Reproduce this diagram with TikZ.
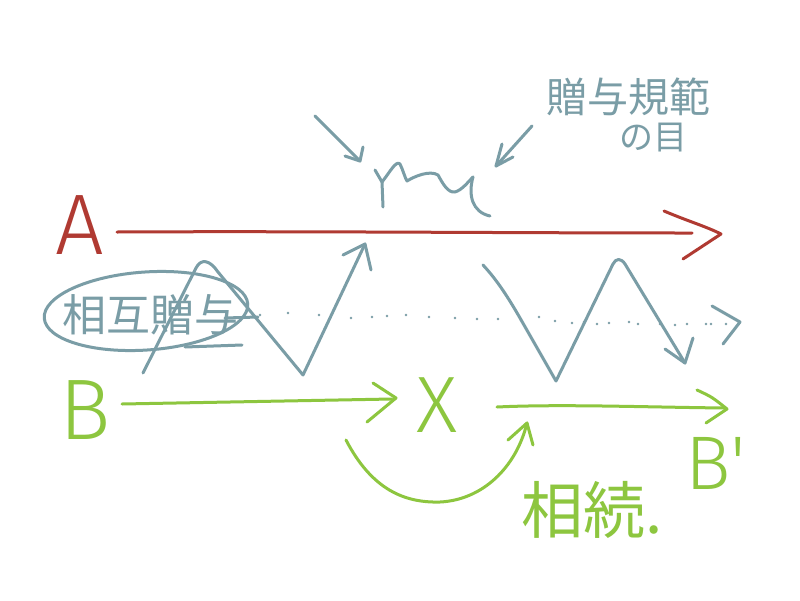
\documentclass[tikz,border=0pt]{standalone}
\usepackage{fontspec}
\newfontfamily\latinhand{Fira Sans Light}
\newfontfamily\cjk{Noto Sans CJK JP}
\definecolor{cred}{HTML}{B03A32}
\definecolor{cblue}{HTML}{7A9DA6}
\definecolor{cgreen}{HTML}{8DC63F}
\begin{document}
\begin{tikzpicture}[x=1pt,y=-1pt,
  pen/.style={line width=3pt,line cap=round,line join=round},
  redpen/.style={pen,draw=cred},
  bluepen/.style={pen,draw=cblue},
  greenpen/.style={pen,draw=cgreen},
  letter/.style={inner sep=0pt,font=\latinhand},
  jtext/.style={inner sep=0pt}]
\fill[white] (0,0) rectangle (800,600);
\useasboundingbox (0,0) rectangle (800,600);

% ---------- letters ----------
\node[letter,text=cred] (A) at (80,225) {\fontsize{86}{90}\selectfont A};
\node[letter,text=cgreen] (B) at (85,410) {\fontsize{86}{90}\selectfont B};
\node[letter,text=cgreen] (X) at (437,405) {\fontsize{80}{84}\selectfont X};
\node[letter,text=cgreen] (Bp) at (716,463) {\fontsize{76}{80}\selectfont B'};

% ---------- japanese texts ----------
\node[jtext,text=cblue] (norm1) at (628,97) {\cjk\fontsize{41}{44}\selectfont 贈与規範};
\node[jtext,text=cblue] (norm2) at (653,138) {\cjk\fontsize{34}{38}\selectfont の目};
\node[jtext,text=cblue] (mutual) at (150,315) {\cjk\fontsize{44}{48}\selectfont 相互贈与};
\node[jtext,text=cgreen] (inherit) at (592,510) {\cjk\fontsize{62}{66}\selectfont 相続.};

% ---------- red arrow A ----------
\coordinate (a0) at (117,232);
\coordinate (a1) at (721,234);
\coordinate (a1u) at (664,211);
\coordinate (a1d) at (683,259);
\draw[redpen] (a0) .. controls (300,231) and (500,233) .. (692,233);
\draw[redpen] (a1u) .. controls (690,222) and (705,226) .. (a1) -- (a1d);

% ---------- blue: norm gaze ----------
\coordinate (l0) at (315,116);
\coordinate (l1) at (360,161);
\draw[bluepen] (l0) -- (l1);
\draw[bluepen] (345,156) .. controls (352,158) .. (l1) -- (363,147);
\coordinate (r0) at (532,126);
\coordinate (r1) at (496,166);
\draw[bluepen] (r0) -- (r1);
\draw[bluepen] (502,144) -- (r1) -- (513,157);
% squiggle
\draw[bluepen] (375,170) -- (382,182)
  .. controls (390,172) and (396,160) .. (400,164)
  .. controls (403,170) and (405,178) .. (407,181)
  .. controls (415,176) and (430,170) .. (438,175)
  .. controls (443,184) and (448,193) .. (455,192)
  .. controls (462,190) and (468,182) .. (473,177);
\draw[bluepen] (382,182) -- (383,207);
\draw[bluepen] (473,177) .. controls (468,195) and (472,212) .. (490,216);

% ---------- blue: mutual gift ellipse and zigzags ----------
\draw[bluepen,rotate around={4:(146,311)}] (146,311) ellipse [x radius=102pt, y radius=39pt];
\draw[bluepen] (185,347) -- (242,345);
\draw[bluepen] (225,318) -- (258,317);

\coordinate (z0) at (143,373);
\coordinate (z1) at (303,375);
\coordinate (z2) at (365,244);
\draw[bluepen] (z0) -- (196,268) .. controls (201,258) and (210,260) .. (218,272)
  -- (z1) -- (z2);
\draw[bluepen] (343,255) -- (z2) -- (371,270);

\coordinate (w0) at (483,265);
\coordinate (w1) at (556,381);
\coordinate (w2) at (685,363);
\draw[bluepen] (w0) .. controls (495,278) and (505,292) .. (520,318)
  -- (w1) -- (613,264) .. controls (616,258) and (621,258) .. (625,264)
  -- (w2);
\draw[bluepen] (665,349) -- (w2) -- (693,338);

% dotted line
\foreach \p in {(260,315),(288,313),(319,315),(351,318),(372,317),(387,316),
  (406,315),(429,317),(455,318),(477,319),(498,319),(521,320),(539,317),
  (555,321),(572,323),(584,322),(597,324),(609,323),(629,322),(638,324),
  (660,324),(675,325),(687,324),(706,324),(711,324),(726,324)}
  \fill[cblue] \p circle (1.3pt);
\coordinate (d1) at (740,322);
\draw[bluepen] (712,306) -- (d1) -- (723,344);

% ---------- green arrows ----------
\coordinate (b0) at (122,404);
\coordinate (b1) at (396,398);
\draw[greenpen] (b0) -- (392,399);
\draw[greenpen] (373,383) -- (b1) -- (367,422);

\coordinate (x0) at (497,407);
\coordinate (x1) at (727,409);
\draw[greenpen] (x0) .. controls (560,404) and (640,407) .. (724,408);
\draw[greenpen] (697,390) .. controls (712,397) .. (x1) -- (706,423);

\coordinate (c0) at (346,440);
\coordinate (c1) at (527,423);
\draw[greenpen] (c0) .. controls (372,490) and (405,503) .. (440,502)
  .. controls (482,500) and (516,468) .. (c1);
\draw[greenpen] (508,440) -- (c1) -- (533,445);
\end{tikzpicture}
\end{document}
